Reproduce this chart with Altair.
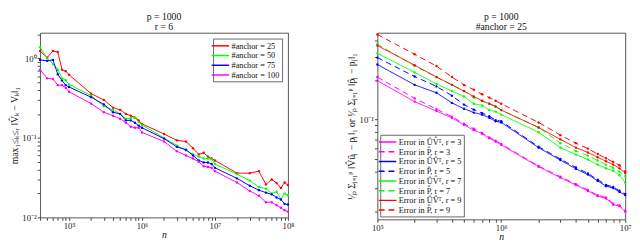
import math
import altair as alt
import pandas as pd

# ---------------- left panel data ----------------
left_n = [4e4, 5e4, 6e4, 7e4, 8e4, 9e4,
          1e5, 2e5, 3e5, 4e5, 5e5, 6e5, 7e5, 8e5, 9e5,
          1e6, 2e6, 3e6, 4e6, 5e6, 6e6, 7e6, 8e6, 9e6,
          1e7, 2e7, 3e7, 4e7, 5e7, 6e7, 7e7, 8e7, 9e7, 1e8]
anchor25 = [1.24, 1.02, 1.24, 1.20, 0.72, 0.69, 0.62, 0.36, 0.30, 0.24, 0.225, 0.20, 0.19, 0.18, 0.166,
            0.15, 0.112, 0.093, 0.09, 0.074, 0.062, 0.065, 0.058, 0.055,
            0.052, 0.036, 0.036, 0.038, 0.026, 0.030, 0.027, 0.0234, 0.0275, 0.0255]
anchor50 = [1.38, 1.0, 0.85, 0.72, 0.56, 0.53, 0.47, 0.34, 0.25, 0.225, 0.20, 0.174, 0.177, 0.18, 0.158,
            0.145, 0.10, 0.08, 0.07, 0.062, 0.058, 0.055, 0.055, 0.054,
            0.047, 0.035, 0.029, 0.024, 0.023, 0.020, 0.021, 0.017, 0.020, 0.019]
anchor75 = [0.955, 0.93, 0.955, 0.63, 0.525, 0.46, 0.436, 0.325, 0.263, 0.21, 0.20, 0.166, 0.166, 0.155, 0.142,
            0.134, 0.098, 0.077, 0.071, 0.06, 0.052, 0.049, 0.049, 0.047,
            0.042, 0.031, 0.025, 0.022, 0.0205, 0.0195, 0.0178, 0.0168, 0.0148, 0.0145]
anchor100 = [0.72, 0.56, 0.55, 0.46, 0.46, 0.425, 0.38, 0.27, 0.21, 0.19, 0.174, 0.155, 0.138, 0.134, 0.134,
             0.117, 0.09, 0.068, 0.060, 0.055, 0.050, 0.044, 0.043, 0.042,
             0.038, 0.0275, 0.0215, 0.0187, 0.0155, 0.0155, 0.0142, 0.0132, 0.0123, 0.0118]
left_labels = ["#anchor = 25", "#anchor = 50", "#anchor = 75", "#anchor = 100"]
left_colors = ["#ff0000", "#00ff00", "#0000ff", "#ff00ff"]

# ---------------- right panel data ----------------
right_n = [1e5, 2e5, 3e5, 4e5, 5e5, 6e5, 7e5, 8e5, 9e5,
           1e6, 2e6, 3e6, 4e6, 5e6, 6e6, 7e6, 8e6, 9e6, 1e7]
uv_r3 = [0.198, 0.137, 0.116, 0.103, 0.091, 0.083, 0.078, 0.072, 0.068, 0.064,
         0.0436, 0.036, 0.0316, 0.0285, 0.026, 0.025, 0.0224, 0.0218, 0.0198]
p_r3 = [0.211, 0.145, 0.12, 0.105, 0.093, 0.085, 0.079, 0.073, 0.069, 0.065,
        0.0442, 0.0366, 0.0321, 0.029, 0.0264, 0.0254, 0.0228, 0.0221, 0.0201]
uv_r5 = [0.263, 0.184, 0.160, 0.134, 0.121, 0.113, 0.109, 0.103, 0.097, 0.095,
         0.061, 0.049, 0.042, 0.038, 0.034, 0.031, 0.030, 0.028, 0.0265]
p_r5 = [0.297, 0.213, 0.179, 0.152, 0.130, 0.119, 0.112, 0.106, 0.099, 0.097,
        0.062, 0.050, 0.043, 0.0388, 0.0347, 0.0317, 0.0306, 0.0286, 0.027]
uv_r7 = [0.32, 0.229, 0.187, 0.165, 0.150, 0.132, 0.128, 0.118, 0.115, 0.109,
         0.080, 0.061, 0.054, 0.0495, 0.0453, 0.0424, 0.0406, 0.0376, 0.033]
p_r7 = [0.377, 0.256, 0.211, 0.184, 0.165, 0.147, 0.139, 0.132, 0.125, 0.118,
        0.087, 0.066, 0.0575, 0.053, 0.0487, 0.0453, 0.0429, 0.040, 0.037]
uv_r9 = [0.367, 0.26, 0.211, 0.184, 0.165, 0.150, 0.139, 0.132, 0.126, 0.118,
         0.087, 0.0706, 0.061, 0.056, 0.0515, 0.048, 0.0453, 0.0424, 0.039]
p_r9 = [0.446, 0.315, 0.256, 0.211, 0.184, 0.169, 0.156, 0.147, 0.139, 0.132,
        0.095, 0.076, 0.066, 0.060, 0.0545, 0.0506, 0.0474, 0.0448, 0.040]
right_labels = ["Error in ÛV̂ᵀ, r = 3", "Error in P̂, r = 3",
                "Error in ÛV̂ᵀ, r = 5", "Error in P̂, r = 5",
                "Error in ÛV̂ᵀ, r = 7", "Error in P̂, r = 7",
                "Error in ÛV̂ᵀ, r = 9", "Error in P̂, r = 9"]
right_colors = ["#ff00ff", "#ff00ff", "#0000ff", "#0000ff",
                "#00ff00", "#00ff00", "#ff0000", "#ff0000"]
right_dashes = [[1, 0], [6, 4]] * 4

FONT = "Liberation Serif, Times New Roman, serif"
SUP = str.maketrans("-0123456789", "⁻⁰¹²³⁴⁵⁶⁷⁸⁹")


def log_ticks(lo, hi):
    vals = []
    for e in range(-3, 9):
        for m in range(1, 10):
            v = float(f"{m}e{e}")
            if lo * 0.999 <= v <= hi * 1.001:
                vals.append(v)
    return vals


def label_expr(vals):
    parts = []
    for v in vals:
        lg = math.log10(v)
        e = round(lg)
        if abs(lg - e) < 1e-9:
            parts.append(f"datum.value=={v!r}?'10{str(e).translate(SUP)}'")
    return ":".join(parts) + ":''"


def long_df(xs, series, labels, field):
    rows = []
    for lab, ys in zip(labels, series):
        for x, y in zip(xs, ys):
            rows.append({"n": x, "err": y, field: lab})
    return pd.DataFrame(rows)


def xaxis(lo, hi):
    vals = log_ticks(lo, hi)
    return alt.Axis(values=vals, labelExpr=label_expr(vals), title="n",
                    titleFontStyle="italic", titlePadding=0, labelFlush=False)


def yaxis(lo, hi, title):
    vals = log_ticks(lo, hi)
    return alt.Axis(values=vals, labelExpr=label_expr(vals), title=title,
                    titlePadding=3)


left_df = long_df(left_n, [anchor25, anchor50, anchor75, anchor100], left_labels, "anchor")
right_df = long_df(right_n, [uv_r3, p_r3, uv_r5, p_r5, uv_r7, p_r7, uv_r9, p_r9],
                   right_labels, "method")

L_XLO, L_XHI, L_YLO, L_YHI = 4e4, 1e8, 0.01, 2.1
R_XLO, R_XHI, R_YLO, R_YHI = 1e5, 1e7, 0.0173, 0.46

leg_common = dict(title=None, symbolType="M-2,0H2", symbolSize=81,
                  symbolStrokeWidth=1.5, labelFontSize=8.5,
                  fillColor="white", strokeColor="#666",
                  padding=2, rowPadding=0, labelOffset=6)

left = alt.Chart(left_df).mark_line(
    strokeWidth=1, point=alt.OverlayMarkDef(filled=True, size=6)
).encode(
    x=alt.X("n:Q", scale=alt.Scale(type="log", domain=[L_XLO, L_XHI], nice=False),
            axis=xaxis(L_XLO, L_XHI)),
    y=alt.Y("err:Q", scale=alt.Scale(type="log", domain=[L_YLO, L_YHI], nice=False),
            axis=yaxis(L_YLO, L_YHI, "max₁≤ₖ≤ᵣ ‖V̂ₖ − Vₖ‖₁")),
    color=alt.Color("anchor:N", sort=left_labels,
                    scale=alt.Scale(domain=left_labels, range=left_colors),
                    legend=alt.Legend(orient="top-right", offset=6, **leg_common)),
).properties(width=255, height=190,
             title=alt.TitleParams(["p = 1000", "r = 6"]))

right = alt.Chart(right_df).mark_line(
    strokeWidth=1, point=alt.OverlayMarkDef(filled=True, size=6)
).encode(
    x=alt.X("n:Q", scale=alt.Scale(type="log", domain=[R_XLO, R_XHI], nice=False),
            axis=xaxis(R_XLO, R_XHI)),
    y=alt.Y("err:Q", scale=alt.Scale(type="log", domain=[R_YLO, R_YHI], nice=False),
            axis=yaxis(R_YLO, R_YHI,
                       "¹⁄ₚ Σⱼ₌₁ᵖ ‖V̂ûⱼ − pⱼ‖₁ or ¹⁄ₚ Σⱼ₌₁ᵖ ‖p̂ⱼ − pⱼ‖₁")),
    color=alt.Color("method:N", sort=right_labels,
                    scale=alt.Scale(domain=right_labels, range=right_colors),
                    legend=alt.Legend(orient="bottom-left", offset=3, **leg_common)),
    strokeDash=alt.StrokeDash("method:N", sort=right_labels,
                              scale=alt.Scale(domain=right_labels, range=right_dashes),
                              legend=alt.Legend(orient="bottom-left", offset=3, **leg_common)),
).properties(width=255, height=192,
             title=alt.TitleParams(["p = 1000", "#anchor = 25"]))

chart = alt.hconcat(left, right, spacing=52, padding=0).resolve_scale(
    color="independent", strokeDash="independent", x="independent", y="independent"
).resolve_legend(
    color="independent", strokeDash="independent"
).configure(
    font=FONT,
).configure_view(
    stroke="#555", strokeWidth=1,
).configure_axis(
    grid=False, domain=False, tickSize=3, tickColor="#444",
    labelFont=FONT, titleFont=FONT, labelFontSize=9, titleFontSize=10,
    labelColor="#222", titleColor="#111", titleFontWeight="normal",
    labelPadding=1,
).configure_legend(
    labelFont=FONT, labelColor="#111",
).configure_title(
    font=FONT, fontSize=10, fontWeight="normal", lineHeight=10, offset=1,
    anchor="middle", color="#111",
)

chart.save("out.html", embed_options={"renderer": "svg", "actions": False})
